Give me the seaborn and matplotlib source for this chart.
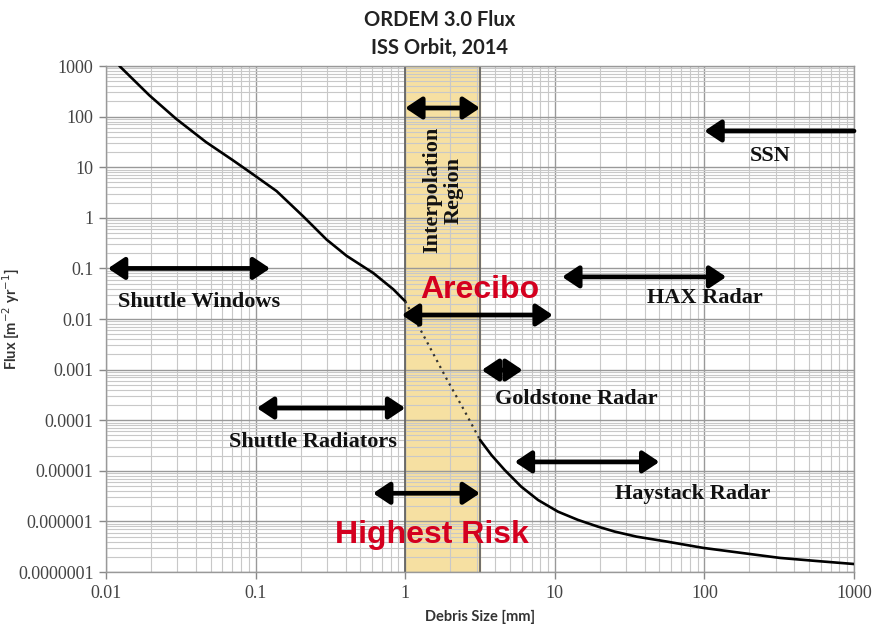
import numpy as np
import matplotlib
matplotlib.use("Agg")
import matplotlib.pyplot as plt
import matplotlib.ticker as mticker
import seaborn as sns
import pandas as pd

# curve (size in mm, flux per m^2 per yr)
size_low = [0.0123, 0.0195, 0.0294, 0.0466, 0.0703, 0.0918, 0.138, 0.208,
            0.298, 0.406, 0.5, 0.612, 0.833, 1.0]
flux_low = [1000, 263, 90.6, 31.4, 13.8, 7.96, 3.38, 1.07, 0.372, 0.177, 0.119,
            0.081, 0.0386, 0.0224]
size_interp = [1.0, 1.4, 1.9, 2.5, 3.16]
flux_interp = [0.0224, 0.0035, 6.4e-4, 1.5e-4, 4.1e-5]
size_high = [3.16, 3.77, 4.62, 5.97, 7.73, 10.5, 14.3, 19.4, 25.1, 35.2, 56,
             98, 180, 320, 550, 1000]
flux_high = [4.1e-5, 2.05e-5, 1.04e-5, 4.85e-6, 2.65e-6, 1.56e-6, 1.07e-6,
             7.9e-7, 6.3e-7, 5.0e-7, 4.0e-7, 3.0e-7, 2.37e-7, 1.9e-7, 1.66e-7,
             1.44e-7]

interp_region = (1.0, 3.16)

# measurement ranges: label, x start, x end, y, both heads?
ranges = ['Interpolation', 'SSN', 'Shuttle Windows', 'HAX Radar', 'Arecibo',
          'Goldstone Radar', 'Shuttle Radiators', 'Highest Risk', 'Haystack Radar']
range_x0 = [1.0, 1000, 0.0103, 11.2, 0.95, 3.25, 0.102, 0.61, 5.4]
range_x1 = [3.16, 100, 0.125, 140, 9.7, 6.1, 1.0, 3.16, 50]
range_y = [148, 52, 0.1, 0.068, 0.012, 9.8e-4, 1.74e-4, 3.6e-6, 1.5e-5]
range_both = [True, False, True, True, True, True, True, True, True]

# labels
labels = ['Shuttle Windows', 'HAX Radar', 'SSN', 'Goldstone Radar',
          'Shuttle Radiators', 'Haystack Radar']
label_x = [0.042, 100, 274, 14, 0.242, 84]
label_y = [0.0217, 0.026, 17, 2.6e-4, 3.7e-5, 3.5e-6]
red_labels = ['Arecibo', 'Highest Risk']
red_x = [3.16, 1.51]
red_y = [0.037, 5.4e-7]

x_ticks = [0.01, 0.1, 1, 10, 100, 1000]
x_ticklabels = ['0.01', '0.1', '1', '10', '100', '1000']
y_ticks = [1e-7, 1e-6, 1e-5, 1e-4, 1e-3, 1e-2, 1e-1, 1, 10, 100, 1000]
y_ticklabels = ['0.0000001', '0.000001', '0.00001', '0.0001', '0.001', '0.01',
                '0.1', '1', '10', '100', '1000']

sns.set_theme(style="white")
plt.rcParams['font.family'] = ['Lato', 'DejaVu Sans']

fig = plt.figure(figsize=(8.74, 6.24), dpi=100)
ax = fig.add_axes([0.1213, 0.0833, 0.8558, 0.8109])
ax.set_xscale('log')
ax.set_yscale('log')
ax.set_xlim(0.01, 1000)
ax.set_ylim(1e-7, 1000)

ax.axvspan(interp_region[0], interp_region[1], color='#f6e0a2', zorder=0)
for xv in interp_region:
    ax.axvline(xv, color='#666666', lw=1.3, zorder=1)

ax.xaxis.set_minor_locator(mticker.LogLocator(base=10, subs=np.arange(2, 10), numticks=20))
ax.yaxis.set_minor_locator(mticker.LogLocator(base=10, subs=np.arange(2, 10), numticks=30))
ax.grid(which='major', color='#999999', lw=1.0, zorder=0.5)
ax.grid(which='minor', color='#c8c8c8', lw=0.8, zorder=0.5)
ax.set_axisbelow(True)

df_low = pd.DataFrame({'size': size_low, 'flux': flux_low})
df_int = pd.DataFrame({'size': size_interp, 'flux': flux_interp})
df_high = pd.DataFrame({'size': size_high, 'flux': flux_high})
sns.lineplot(data=df_low, x='size', y='flux', ax=ax, color='black', lw=1.9, zorder=3)
sns.lineplot(data=df_int, x='size', y='flux', ax=ax, color='#333333', lw=1.6,
             linestyle=(0, (1, 2)), zorder=3)
sns.lineplot(data=df_high, x='size', y='flux', ax=ax, color='black', lw=1.9, zorder=3)

for name, x0, x1, yv, both in zip(ranges, range_x0, range_x1, range_y, range_both):
    style = '<|-|>,head_length=0.45,head_width=0.3' if both else '-|>,head_length=0.45,head_width=0.3'
    ax.annotate('', xy=(x1, yv), xytext=(x0, yv),
                arrowprops=dict(arrowstyle=style, color='black', lw=3.4,
                                mutation_scale=22, shrinkA=0, shrinkB=0),
                zorder=4)

serif = ['Liberation Serif', 'DejaVu Serif']
for t, xv, yv in zip(labels, label_x, label_y):
    ax.text(xv, yv, t, ha='center', va='center', fontsize=16, fontweight='bold',
            family=serif, color='#111111', zorder=5)
ax.text(1.78, 3.5, 'Interpolation\nRegion', rotation=90, ha='center', va='center',
        fontsize=16, fontweight='bold', family=serif, color='#111111',
        linespacing=1.1, zorder=5)
for t, xv, yv in zip(red_labels, red_x, red_y):
    ax.text(xv, yv, t, ha='center', va='center', fontsize=23, fontweight='bold',
            family=['Liberation Sans', 'DejaVu Sans'], color='#d4001f', zorder=5)

ax.set_xticks(x_ticks)
ax.set_xticklabels(x_ticklabels)
ax.set_yticks(y_ticks)
ax.set_yticklabels(y_ticklabels)
for lab in ax.get_xticklabels() + ax.get_yticklabels():
    lab.set_family(serif)
    lab.set_fontsize(13)
    lab.set_color('#444444')
ax.tick_params(which='major', direction='out', length=5, width=1, color='#888888',
               left=True, bottom=True, pad=4)
ax.tick_params(which='minor', length=0)
for sp in ax.spines.values():
    sp.set_color('#999999')
    sp.set_linewidth(1)

ax.set_xlabel('Debris Size [mm]', fontsize=10.5, fontweight='bold', color='#333333')
ax.xaxis.set_label_coords(0.5, -0.074)
ax.set_ylabel(r'Flux [m$^{-2}$ yr$^{-1}$]', fontsize=10.5, fontweight='bold', color='#333333')
ax.yaxis.set_label_coords(-0.112, 0.5)

fig.text(0.503, 0.968, 'ORDEM 3.0 Flux', ha='center', va='center', fontsize=14.5,
         fontweight='bold', color='#222222')
fig.text(0.503, 0.923, 'ISS Orbit, 2014', ha='center', va='center', fontsize=14.5,
         fontweight='bold', color='#222222')

fig.savefig('out.png', dpi=100)
